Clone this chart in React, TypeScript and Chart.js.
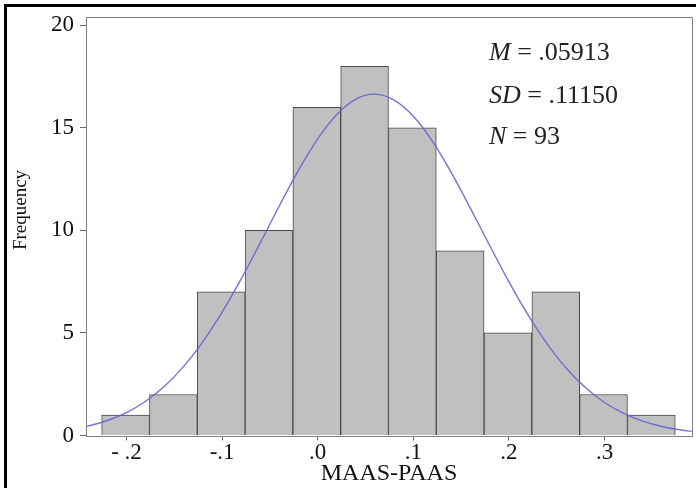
import React, { useEffect, useRef } from 'react';
import { Chart, registerables } from 'chart.js';

Chart.register(...registerables);

// Histogram bins (bin centers) and counts
const binCenters = [-0.201, -0.151, -0.101, -0.051, -0.001, 0.049, 0.099, 0.149, 0.199, 0.249, 0.299, 0.349];
const frequencies = [1, 2, 7, 10, 16, 18, 15, 9, 5, 7, 2, 1];

// Normal curve
const curveX = [-0.2424, -0.22, -0.2, -0.18, -0.16, -0.14, -0.12, -0.1, -0.08, -0.06, -0.04, -0.02, 0.0, 0.02, 0.04, 0.06, 0.08, 0.1, 0.12, 0.14, 0.16, 0.18, 0.2, 0.22, 0.24, 0.26, 0.28, 0.3, 0.32, 0.34, 0.36, 0.38, 0.3915];
const curveY = [0.43, 0.73, 1.12, 1.67, 2.41, 3.38, 4.58, 6.01, 7.64, 9.4, 11.21, 12.94, 14.46, 15.65, 16.4, 16.64, 16.35, 15.56, 14.34, 12.79, 11.05, 9.25, 7.49, 5.88, 4.47, 3.28, 2.34, 1.61, 1.08, 0.7, 0.44, 0.27, 0.2];

const xTickValues = [-0.2, -0.1, 0, 0.1, 0.2, 0.3];
const xTickLabels = ['- .2', '-.1', '.0', '.1', '.2', '.3'];
const yTickValues = [0, 5, 10, 15, 20];

const statNames = ['M', 'SD', 'N'];
const statValues = [' = .05913', ' = .11150', ' = 93'];

const xTitle = 'MAAS-PAAS';
const yTitle = 'Frequency';

const SERIF = '"Liberation Serif", "Times New Roman", serif';

export default function App() {
  const canvasRef = useRef<HTMLCanvasElement | null>(null);

  useEffect(() => {
    const canvas = canvasRef.current;
    if (!canvas) return;

    const decorPlugin = {
      id: 'decor',
      afterDraw(chart: any) {
        const { ctx, chartArea } = chart;
        ctx.save();
        // outer black frame (top + left)
        ctx.fillStyle = '#000';
        ctx.fillRect(4, 4, 692, 3);
        ctx.fillRect(4, 4, 3, 484);
        // plot box
        ctx.strokeStyle = '#808080';
        ctx.lineWidth = 1;
        ctx.strokeRect(
          Math.round(chartArea.left) + 0.5,
          Math.round(chartArea.top) + 0.5,
          Math.round(chartArea.right) - Math.round(chartArea.left),
          Math.round(chartArea.bottom) - Math.round(chartArea.top)
        );
        // y-axis title
        ctx.save();
        ctx.translate(21, 210);
        ctx.rotate(-Math.PI / 2);
        ctx.font = `19px ${SERIF}`;
        ctx.fillStyle = '#111';
        ctx.textAlign = 'center';
        ctx.textBaseline = 'middle';
        ctx.fillText(yTitle, 0, 0);
        ctx.restore();
        // stats
        const x0 = 489;
        const ys = [53, 96, 137];
        ctx.textBaseline = 'middle';
        ctx.textAlign = 'left';
        ctx.fillStyle = '#222';
        statNames.forEach((n, i) => {
          ctx.font = `italic 26px ${SERIF}`;
          ctx.fillText(n, x0, ys[i]);
          const w = ctx.measureText(n).width;
          ctx.font = `26px ${SERIF}`;
          ctx.fillText(statValues[i], x0 + w, ys[i]);
        });
        ctx.restore();
      },
    };

    const chart = new Chart(canvas, {
      type: 'bar',
      data: {
        datasets: [
          {
            type: 'line',
            data: curveX.map((x, i) => ({ x, y: curveY[i] })),
            borderColor: 'rgba(100, 100, 210, 0.9)',
            borderWidth: 1.4,
            pointRadius: 0,
            tension: 0.4,
            fill: false,
            order: 0,
          } as any,
          {
            type: 'bar',
            data: binCenters.map((x, i) => ({ x, y: frequencies[i] })),
            backgroundColor: '#c0c0c0',
            borderColor: '#4a4a4a',
            borderWidth: 1,
            barPercentage: 1,
            categoryPercentage: 1,
            order: 1,
          } as any,
        ],
      },
      options: {
        animation: false,
        responsive: false,
        maintainAspectRatio: false,
        layout: { padding: { left: 0, top: 17, right: 4, bottom: 0 } },
        plugins: {
          legend: { display: false },
          tooltip: { enabled: false },
        },
        scales: {
          x: {
            type: 'linear',
            min: -0.2424,
            max: 0.3915,
            offset: false,
            afterBuildTicks: (scale: any) => {
              scale.ticks = xTickValues.map((v) => ({ value: v }));
            },
            afterFit: (scale: any) => {
              scale.height = 52.5;
              scale.paddingLeft = 0;
              scale.paddingRight = 0;
            },
            ticks: {
              autoSkip: false,
              maxRotation: 0,
              padding: -1,
              color: '#111',
              font: { family: SERIF, size: 23 },
              callback: (v: any) => {
                const idx = xTickValues.findIndex((t) => Math.abs(t - Number(v)) < 1e-6);
                return idx >= 0 ? xTickLabels[idx] : '';
              },
            },
            grid: {
              display: true,
              drawOnChartArea: false,
              drawTicks: true,
              tickLength: 5,
              color: '#666',
              offset: false,
            },
            border: { display: false },
            title: {
              display: true,
              text: xTitle,
              color: '#111',
              font: { family: SERIF, size: 24 },
              padding: { top: 0, bottom: 0 },
            },
          },
          y: {
            min: 0,
            max: 20.4,
            afterBuildTicks: (scale: any) => {
              scale.ticks = yTickValues.map((v) => ({ value: v }));
            },
            afterFit: (scale: any) => {
              scale.width = 86;
              scale.paddingTop = 0;
              scale.paddingBottom = 0;
            },
            ticks: {
              padding: 6,
              color: '#111',
              font: { family: SERIF, size: 23 },
            },
            grid: {
              display: true,
              drawOnChartArea: false,
              drawTicks: true,
              tickLength: 6,
              color: '#666',
            },
            border: { display: false },
            title: { display: false },
          },
        },
      } as any,
      plugins: [decorPlugin],
    });

    return () => chart.destroy();
  }, []);

  return (
    <div style={{ position: 'fixed', left: 0, top: 0, width: 696, height: 488, background: '#fff' }}>
      <canvas ref={canvasRef} width={696} height={488} style={{ display: 'block', width: 696, height: 488 }} />
    </div>
  );
}
